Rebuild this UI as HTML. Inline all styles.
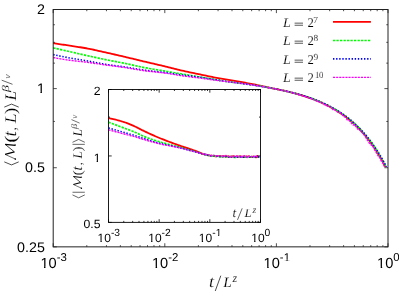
<!DOCTYPE html>
<html><head><meta charset="utf-8"><title>plot</title>
<style>html,body{margin:0;padding:0;background:#fff;overflow:hidden}svg{display:block;will-change:transform}text{font-family:"Liberation Sans",sans-serif;fill:#000;text-rendering:geometricPrecision}.s{font-family:"Liberation Serif",serif;stroke:#fff;stroke-width:0.14px;paint-order:fill stroke}.i{font-family:"Liberation Serif",serif;font-style:italic;stroke:#fff;stroke-width:0.14px;paint-order:fill stroke}</style></head><body>
<svg width="399" height="291" viewBox="0 0 399 291">
<rect width="399" height="291" fill="#fff"/>
<g fill="none" stroke-width="1.8" stroke-linejoin="round">
<path stroke="#ff0000" d="M53.2 43.2 L54.7 43.42 L56.2 43.63 L57.7 43.85 L59.2 44.07 L60.7 44.3 L62.2 44.52 L63.7 44.74 L65.2 44.97 L66.7 45.2 L68.2 45.42 L69.7 45.65 L71.2 45.88 L72.7 46.11 L74.2 46.34 L75.7 46.56 L77.2 46.79 L78.7 47.02 L80.2 47.25 L81.7 47.49 L83.2 47.74 L84.7 47.99 L86.2 48.26 L87.7 48.53 L89.2 48.82 L90.7 49.12 L92.2 49.43 L93.7 49.75 L95.2 50.08 L96.7 50.42 L98.2 50.76 L99.7 51.1 L101.2 51.44 L102.7 51.78 L104.2 52.12 L105.7 52.46 L107.2 52.79 L108.7 53.13 L110.2 53.47 L111.7 53.81 L113.2 54.16 L114.7 54.5 L116.2 54.85 L117.7 55.19 L119.2 55.54 L120.7 55.89 L122.2 56.24 L123.7 56.59 L125.2 56.95 L126.7 57.3 L128.2 57.66 L129.7 58.02 L131.2 58.38 L132.7 58.74 L134.2 59.1 L135.7 59.46 L137.2 59.83 L138.7 60.19 L140.2 60.55 L141.7 60.91 L143.2 61.27 L144.7 61.63 L146.2 61.98 L147.7 62.34 L149.2 62.69 L150.7 63.04 L152.2 63.39 L153.7 63.74 L155.2 64.09 L156.7 64.44 L158.2 64.79 L159.7 65.14 L161.2 65.49 L162.7 65.85 L164.2 66.21 L165.7 66.57 L167.2 66.94 L168.7 67.31 L170.2 67.69 L171.7 68.07 L173.2 68.45 L174.7 68.83 L176.2 69.21 L177.7 69.58 L179.2 69.94 L180.7 70.3 L182.2 70.65 L183.7 70.98 L185.2 71.31 L186.7 71.64 L188.2 71.96 L189.7 72.27 L191.2 72.59 L192.7 72.9 L194.2 73.2 L195.7 73.51 L197.2 73.82 L198.7 74.13 L200.2 74.44 L201.7 74.76 L203.2 75.07 L204.7 75.39 L206.2 75.71 L207.7 76.03 L209.2 76.34 L210.7 76.65 L212.2 76.96 L213.7 77.26 L215.2 77.56 L216.7 77.84 L218.2 78.12 L219.7 78.39 L221.2 78.66 L222.7 78.92 L224.2 79.18 L225.7 79.43 L227.2 79.68 L228.7 79.93 L230.2 80.18 L231.7 80.43 L233.2 80.69 L234.7 80.95 L236.2 81.21 L237.7 81.47 L239.2 81.72 L240.7 81.98 L242.2 82.24 L243.7 82.49 L245.2 82.76 L246.7 83.02 L248.2 83.29 L249.7 83.56 L251.2 83.85 L252.7 84.14 L254.2 84.44 L255.7 84.75 L257.2 85.07 L258.7 85.39 L260.2 85.72 L261.7 86.04 L263.2 86.36 L264.7 86.68 L266.2 87 L267.7 87.33 L269.2 87.65 L270.7 87.96 L272.2 88.27 L273.7 88.56 L275.2 88.85 L276.7 89.14 L278.2 89.45 L279.7 89.76 L281.2 90.07 L282.7 90.4 L284.2 90.73 L285.7 91.07 L287.2 91.42 L288.7 91.78 L290.2 92.14 L291.68 92.52 L293.17 92.9 L294.65 93.3 L296.14 93.7 L297.62 94.12 L299.11 94.54 L300.59 94.98 L302.08 95.43 L303.56 95.89 L305.05 96.37 L306.53 96.86 L308.02 97.36 L309.5 97.88 L310.99 98.41 L312.47 98.96 L313.96 99.52 L315.44 100.1 L316.93 100.7 L318.41 101.32 L319.9 101.96 L321.38 102.62 L322.87 103.29 L324.35 103.99 L325.84 104.71 L327.32 105.46 L328.81 106.23 L330.3 107.02 L331.8 107.84 L333.3 108.69 L334.8 109.57 L336.3 110.47 L337.8 111.41 L339.3 112.38 L340.8 113.38 L342.3 114.41 L343.8 115.48 L345.3 116.59 L346.8 117.74 L348.3 118.92 L349.8 120.15 L351.3 121.42 L352.8 122.74 L354.3 124.1 L355.8 125.51 L357.3 126.98 L358.8 128.49 L360.3 130.06 L361.8 131.69 L363.3 133.38 L364.8 135.13 L366.3 136.94 L367.8 138.82 L369.3 140.76 L370.8 142.78 L372.3 144.88 L373.8 147.05 L375.3 149.3 L376.8 151.64 L378.3 154.07 L379.8 156.58 L381.3 159.2 L382.8 161.91 L384.3 164.7 L385.4 166.84"/>
<path stroke="#00ff00" stroke-width="1.7" stroke-dasharray="2.3 1.2" d="M53.2 47.9 L54.7 48.24 L56.2 48.57 L57.7 48.91 L59.2 49.25 L60.7 49.59 L62.2 49.93 L63.7 50.27 L65.2 50.61 L66.7 50.95 L68.2 51.29 L69.7 51.63 L71.2 51.97 L72.7 52.32 L74.2 52.66 L75.7 53.01 L77.2 53.36 L78.7 53.71 L80.2 54.05 L81.7 54.4 L83.2 54.74 L84.7 55.08 L86.2 55.42 L87.7 55.76 L89.2 56.09 L90.7 56.42 L92.2 56.76 L93.7 57.09 L95.2 57.41 L96.7 57.74 L98.2 58.07 L99.7 58.39 L101.2 58.71 L102.7 59.02 L104.2 59.34 L105.7 59.64 L107.2 59.95 L108.7 60.24 L110.2 60.53 L111.7 60.82 L113.2 61.11 L114.7 61.4 L116.2 61.68 L117.7 61.97 L119.2 62.25 L120.7 62.54 L122.2 62.84 L123.7 63.14 L125.2 63.44 L126.7 63.75 L128.2 64.08 L129.7 64.4 L131.2 64.74 L132.7 65.07 L134.2 65.41 L135.7 65.74 L137.2 66.08 L138.7 66.41 L140.2 66.73 L141.7 67.04 L143.2 67.35 L144.7 67.64 L146.2 67.93 L147.7 68.2 L149.2 68.47 L150.7 68.73 L152.2 68.98 L153.7 69.23 L155.2 69.48 L156.7 69.73 L158.2 69.97 L159.7 70.22 L161.2 70.46 L162.7 70.71 L164.2 70.96 L165.7 71.22 L167.2 71.48 L168.7 71.73 L170.2 71.99 L171.7 72.25 L173.2 72.5 L174.7 72.76 L176.2 73.02 L177.7 73.27 L179.2 73.53 L180.7 73.78 L182.2 74.03 L183.7 74.29 L185.2 74.54 L186.7 74.79 L188.2 75.04 L189.7 75.28 L191.2 75.53 L192.7 75.78 L194.2 76.03 L195.7 76.28 L197.2 76.53 L198.7 76.78 L200.2 77.03 L201.7 77.29 L203.2 77.55 L204.7 77.8 L206.2 78.06 L207.7 78.32 L209.2 78.58 L210.7 78.84 L212.2 79.1 L213.7 79.35 L215.2 79.6 L216.7 79.85 L218.2 80.1 L219.7 80.34 L221.2 80.59 L222.7 80.84 L224.2 81.08 L225.7 81.32 L227.2 81.55 L228.7 81.77 L230.2 81.98 L231.7 82.17 L233.2 82.35 L234.7 82.54 L236.2 82.73 L237.7 82.92 L239.2 83.12 L240.7 83.32 L242.2 83.52 L243.7 83.72 L245.2 83.93 L246.7 84.14 L248.2 84.35 L249.7 84.57 L251.2 84.79 L252.7 85.01 L254.2 85.23 L255.7 85.46 L257.2 85.7 L258.7 85.93 L260.2 86.17 L261.7 86.42 L263.2 86.67 L264.7 86.92 L266.2 87.18 L267.7 87.45 L269.2 87.71 L270.7 87.99 L272.2 88.27 L273.7 88.55 L275.2 88.84 L276.7 89.14 L278.2 89.45 L279.7 89.76 L281.2 90.07 L282.7 90.4 L284.2 90.73 L285.7 91.07 L287.2 91.42 L288.7 91.78 L290.2 92.14 L291.72 92.52 L293.23 92.9 L294.75 93.3 L296.26 93.7 L297.78 94.12 L299.29 94.54 L300.81 94.98 L302.32 95.43 L303.84 95.89 L305.35 96.37 L306.87 96.86 L308.38 97.36 L309.9 97.88 L311.41 98.41 L312.93 98.96 L314.44 99.52 L315.96 100.1 L317.47 100.7 L318.99 101.32 L320.5 101.96 L322.02 102.62 L323.53 103.29 L325.05 103.99 L326.56 104.71 L328.08 105.46 L329.59 106.23 L331.1 107.02 L332.6 107.84 L334.1 108.69 L335.6 109.57 L337.1 110.47 L338.6 111.41 L340.1 112.38 L341.6 113.38 L343.1 114.41 L344.6 115.48 L346.1 116.59 L347.6 117.74 L349.1 118.92 L350.6 120.15 L352.1 121.42 L353.6 122.74 L355.1 124.1 L356.6 125.51 L358.1 126.98 L359.6 128.49 L361.1 130.06 L362.6 131.69 L364.1 133.38 L365.6 135.13 L367.1 136.94 L368.6 138.82 L370.1 140.77 L371.6 142.78 L373.1 144.88 L374.6 147.05 L376.1 149.3 L377.6 151.64 L379.1 154.07 L380.6 156.58 L382.1 159.19 L383.6 161.9 L385.1 164.71 L386.2 166.84"/>
<path stroke="#0000ff" stroke-width="1.6" stroke-dasharray="1.4 1.7" d="M53.2 54.6 L54.7 54.93 L56.2 55.25 L57.7 55.56 L59.2 55.88 L60.7 56.19 L62.2 56.49 L63.7 56.79 L65.2 57.09 L66.7 57.38 L68.2 57.66 L69.7 57.94 L71.2 58.22 L72.7 58.49 L74.2 58.75 L75.7 59 L77.2 59.25 L78.7 59.5 L80.2 59.75 L81.7 60 L83.2 60.25 L84.7 60.5 L86.2 60.76 L87.7 61.02 L89.2 61.3 L90.7 61.58 L92.2 61.86 L93.7 62.15 L95.2 62.44 L96.7 62.72 L98.2 63.01 L99.7 63.28 L101.2 63.56 L102.7 63.82 L104.2 64.07 L105.7 64.31 L107.2 64.54 L108.7 64.76 L110.2 64.97 L111.7 65.18 L113.2 65.38 L114.7 65.58 L116.2 65.78 L117.7 65.98 L119.2 66.18 L120.7 66.39 L122.2 66.6 L123.7 66.81 L125.2 67.03 L126.7 67.26 L128.2 67.5 L129.7 67.74 L131.2 67.99 L132.7 68.24 L134.2 68.5 L135.7 68.75 L137.2 69 L138.7 69.25 L140.2 69.49 L141.7 69.72 L143.2 69.94 L144.7 70.16 L146.2 70.36 L147.7 70.56 L149.2 70.74 L150.7 70.92 L152.2 71.1 L153.7 71.27 L155.2 71.44 L156.7 71.61 L158.2 71.78 L159.7 71.95 L161.2 72.13 L162.7 72.31 L164.2 72.5 L165.7 72.69 L167.2 72.89 L168.7 73.1 L170.2 73.31 L171.7 73.53 L173.2 73.75 L174.7 73.97 L176.2 74.18 L177.7 74.4 L179.2 74.61 L180.7 74.82 L182.2 75.03 L183.7 75.22 L185.2 75.42 L186.7 75.61 L188.2 75.79 L189.7 75.98 L191.2 76.16 L192.7 76.35 L194.2 76.53 L195.7 76.72 L197.2 76.92 L198.7 77.12 L200.2 77.33 L201.7 77.54 L203.2 77.77 L204.7 78 L206.2 78.23 L207.7 78.47 L209.2 78.71 L210.7 78.95 L212.2 79.19 L213.7 79.43 L215.2 79.67 L216.7 79.9 L218.2 80.14 L219.7 80.38 L221.2 80.61 L222.7 80.85 L224.2 81.09 L225.7 81.32 L227.2 81.55 L228.7 81.77 L230.2 81.98 L231.7 82.17 L233.2 82.35 L234.7 82.54 L236.2 82.73 L237.7 82.92 L239.2 83.12 L240.7 83.32 L242.2 83.52 L243.7 83.72 L245.2 83.93 L246.7 84.14 L248.2 84.35 L249.7 84.57 L251.2 84.79 L252.7 85.01 L254.2 85.23 L255.7 85.46 L257.2 85.7 L258.7 85.93 L260.2 86.17 L261.7 86.42 L263.2 86.67 L264.7 86.92 L266.2 87.18 L267.7 87.45 L269.2 87.71 L270.7 87.99 L272.2 88.27 L273.7 88.55 L275.2 88.84 L276.7 89.14 L278.2 89.45 L279.7 89.76 L281.2 90.07 L282.7 90.4 L284.2 90.73 L285.7 91.07 L287.2 91.42 L288.7 91.78 L290.2 92.14 L291.73 92.52 L293.25 92.9 L294.77 93.3 L296.29 93.7 L297.82 94.12 L299.34 94.54 L300.86 94.98 L302.38 95.43 L303.91 95.89 L305.43 96.37 L306.95 96.86 L308.47 97.36 L310 97.88 L311.52 98.41 L313.04 98.96 L314.56 99.52 L316.09 100.1 L317.61 100.7 L319.13 101.32 L320.65 101.96 L322.18 102.62 L323.7 103.29 L325.22 103.99 L326.74 104.71 L328.27 105.46 L329.79 106.23 L331.3 107.02 L332.8 107.84 L334.3 108.69 L335.8 109.57 L337.3 110.47 L338.8 111.41 L340.3 112.38 L341.8 113.38 L343.3 114.41 L344.8 115.48 L346.3 116.59 L347.8 117.74 L349.3 118.92 L350.8 120.15 L352.3 121.42 L353.8 122.74 L355.3 124.1 L356.8 125.51 L358.3 126.98 L359.8 128.49 L361.3 130.06 L362.8 131.69 L364.3 133.38 L365.8 135.13 L367.3 136.94 L368.8 138.82 L370.3 140.77 L371.8 142.78 L373.3 144.88 L374.8 147.05 L376.3 149.3 L377.8 151.64 L379.3 154.07 L380.8 156.58 L382.3 159.19 L383.8 161.9 L385.3 164.71 L386.4 166.84"/>
<path stroke="#ff00ff" stroke-dasharray="2.1 1" stroke-width="1.4" d="M53.2 57.5 L54.7 57.78 L56.2 58.06 L57.7 58.33 L59.2 58.6 L60.7 58.86 L62.2 59.11 L63.7 59.36 L65.2 59.59 L66.7 59.82 L68.2 60.05 L69.7 60.26 L71.2 60.46 L72.7 60.65 L74.2 60.83 L75.7 61.01 L77.2 61.17 L78.7 61.34 L80.2 61.5 L81.7 61.67 L83.2 61.84 L84.7 62.01 L86.2 62.2 L87.7 62.39 L89.2 62.59 L90.7 62.8 L92.2 63.02 L93.7 63.24 L95.2 63.46 L96.7 63.68 L98.2 63.91 L99.7 64.13 L101.2 64.35 L102.7 64.57 L104.2 64.79 L105.7 65 L107.2 65.2 L108.7 65.4 L110.2 65.6 L111.7 65.8 L113.2 66 L114.7 66.19 L116.2 66.39 L117.7 66.59 L119.2 66.79 L120.7 66.99 L122.2 67.2 L123.7 67.41 L125.2 67.63 L126.7 67.86 L128.2 68.09 L129.7 68.34 L131.2 68.59 L132.7 68.84 L134.2 69.1 L135.7 69.35 L137.2 69.6 L138.7 69.85 L140.2 70.09 L141.7 70.33 L143.2 70.55 L144.7 70.76 L146.2 70.96 L147.7 71.14 L149.2 71.32 L150.7 71.49 L152.2 71.65 L153.7 71.81 L155.2 71.97 L156.7 72.13 L158.2 72.29 L159.7 72.46 L161.2 72.63 L162.7 72.81 L164.2 72.99 L165.7 73.2 L167.2 73.41 L168.7 73.64 L170.2 73.88 L171.7 74.13 L173.2 74.38 L174.7 74.64 L176.2 74.89 L177.7 75.14 L179.2 75.38 L180.7 75.61 L182.2 75.83 L183.7 76.04 L185.2 76.24 L186.7 76.43 L188.2 76.62 L189.7 76.81 L191.2 77 L192.7 77.18 L194.2 77.37 L195.7 77.55 L197.2 77.74 L198.7 77.93 L200.2 78.13 L201.7 78.33 L203.2 78.53 L204.7 78.73 L206.2 78.94 L207.7 79.15 L209.2 79.36 L210.7 79.56 L212.2 79.77 L213.7 79.97 L215.2 80.17 L216.7 80.36 L218.2 80.55 L219.7 80.73 L221.2 80.91 L222.7 81.09 L224.2 81.26 L225.7 81.44 L227.2 81.61 L228.7 81.79 L230.2 81.97 L231.7 82.16 L233.2 82.35 L234.7 82.54 L236.2 82.73 L237.7 82.92 L239.2 83.12 L240.7 83.32 L242.2 83.52 L243.7 83.72 L245.2 83.93 L246.7 84.14 L248.2 84.35 L249.7 84.57 L251.2 84.79 L252.7 85.01 L254.2 85.23 L255.7 85.46 L257.2 85.7 L258.7 85.93 L260.2 86.17 L261.7 86.42 L263.2 86.67 L264.7 86.92 L266.2 87.18 L267.7 87.45 L269.2 87.71 L270.7 87.99 L272.2 88.27 L273.7 88.55 L275.2 88.84 L276.7 89.14 L278.2 89.45 L279.7 89.76 L281.2 90.07 L282.7 90.4 L284.2 90.73 L285.7 91.07 L287.2 91.42 L288.7 91.78 L290.19 92.14 L291.64 92.52 L293.08 92.9 L294.52 93.3 L295.97 93.7 L297.41 94.12 L298.85 94.54 L300.3 95 L301.74 95.48 L303.19 95.97 L304.63 96.37 L306.07 96.94 L307.52 97.32 L308.96 98 L310.4 98.35 L311.85 98.87 L313.29 99.4 L314.74 100.25 L316.18 100.77 L317.62 101.37 L319.07 101.64 L320.51 102.66 L321.95 102.83 L323.4 104.49 L324.84 104.67 L326.29 105.53 L327.73 106.19 L329.2 106.35 L330.7 107.24 L332.2 108.68 L333.7 110.29 L335.2 109.91 L336.7 111.04 L338.2 112.35 L339.7 112.45 L341.2 113.48 L342.7 115.26 L344.2 116.56 L345.7 117.52 L347.2 119.77 L348.7 120.06 L350.2 121.62 L351.7 123.62 L353.2 125.04 L354.7 124.64 L356.2 126.77 L357.7 129.13 L359.2 129.31 L360.7 131.18 L362.2 132.66 L363.7 134.38 L365.2 136.31 L366.7 138.91 L368.2 141.46 L369.7 143.62 L371.2 144.89 L372.7 145.97 L374.2 149.27 L375.7 151.46 L377.2 154.26 L378.7 156.51 L380.2 158.2 L381.7 162.13 L383.2 163.57 L384.3 166.46"/>
</g>
<g stroke="#222" stroke-width="1" fill="none">
<rect x="53.2" y="9.5" width="334.8" height="237.35"/>
</g>
<g stroke="#222" stroke-width="0.8" fill="none">
<path d="M53.2 246.85 v-3.6 M53.2 9.5 v3.6 M86.79 246.85 v-1.7 M86.79 9.5 v1.7 M106.45 246.85 v-1.7 M106.45 9.5 v1.7 M120.39 246.85 v-1.7 M120.39 9.5 v1.7 M131.21 246.85 v-1.7 M131.21 9.5 v1.7 M140.04 246.85 v-1.7 M140.04 9.5 v1.7 M147.51 246.85 v-1.7 M147.51 9.5 v1.7 M153.98 246.85 v-1.7 M153.98 9.5 v1.7 M159.69 246.85 v-1.7 M159.69 9.5 v1.7 M164.8 246.85 v-3.6 M164.8 9.5 v3.6 M198.39 246.85 v-1.7 M198.39 9.5 v1.7 M218.05 246.85 v-1.7 M218.05 9.5 v1.7 M231.99 246.85 v-1.7 M231.99 9.5 v1.7 M242.81 246.85 v-1.7 M242.81 9.5 v1.7 M251.64 246.85 v-1.7 M251.64 9.5 v1.7 M259.11 246.85 v-1.7 M259.11 9.5 v1.7 M265.58 246.85 v-1.7 M265.58 9.5 v1.7 M271.29 246.85 v-1.7 M271.29 9.5 v1.7 M276.4 246.85 v-3.6 M276.4 9.5 v3.6 M309.99 246.85 v-1.7 M309.99 9.5 v1.7 M329.65 246.85 v-1.7 M329.65 9.5 v1.7 M343.59 246.85 v-1.7 M343.59 9.5 v1.7 M354.41 246.85 v-1.7 M354.41 9.5 v1.7 M363.24 246.85 v-1.7 M363.24 9.5 v1.7 M370.71 246.85 v-1.7 M370.71 9.5 v1.7 M377.18 246.85 v-1.7 M377.18 9.5 v1.7 M382.89 246.85 v-1.7 M382.89 9.5 v1.7 M388 246.85 v-3.6 M388 9.5 v3.6 M53.2 9.5 h3.6 M388 9.5 h-3.6 M53.2 88.62 h3.6 M388 88.62 h-3.6 M53.2 167.73 h3.6 M388 167.73 h-3.6 M53.2 246.85 h3.6 M388 246.85 h-3.6 M53.2 121.45 h1.7 M388 121.45 h-1.7 M53.2 63.15 h1.7 M388 63.15 h-1.7 M53.2 42.34 h1.7 M388 42.34 h-1.7 M53.2 24.74 h1.7 M388 24.74 h-1.7"/>
</g>
<g fill="none" stroke-width="1.8" stroke-linejoin="round">
<path stroke="#ff0000" d="M108.5 118.2 L109.7 118.4 L110.9 118.62 L112.1 118.86 L113.3 119.12 L114.5 119.4 L115.7 119.7 L116.9 120 L118.1 120.33 L119.3 120.66 L120.5 121.01 L121.7 121.37 L122.9 121.74 L124.1 122.11 L125.3 122.5 L126.5 122.91 L127.7 123.35 L128.9 123.83 L130.1 124.32 L131.3 124.84 L132.5 125.37 L133.7 125.91 L134.9 126.45 L136.1 127.02 L137.3 127.62 L138.5 128.24 L139.7 128.88 L140.9 129.5 L142.1 130.11 L143.3 130.68 L144.5 131.26 L145.7 131.83 L146.9 132.39 L148.1 132.95 L149.3 133.51 L150.5 134.06 L151.7 134.61 L152.9 135.15 L154.1 135.68 L155.3 136.21 L156.5 136.73 L157.7 137.24 L158.9 137.74 L160.1 138.24 L161.3 138.73 L162.5 139.21 L163.7 139.69 L164.9 140.15 L166.1 140.62 L167.3 141.07 L168.5 141.53 L169.7 141.97 L170.9 142.42 L172.1 142.86 L173.3 143.29 L174.5 143.73 L175.7 144.16 L176.9 144.59 L178.1 145.01 L179.3 145.43 L180.5 145.84 L181.7 146.24 L182.9 146.64 L184.1 147.04 L185.3 147.43 L186.5 147.82 L187.7 148.22 L188.9 148.61 L190.1 149.01 L191.3 149.41 L192.5 149.82 L193.7 150.24 L194.9 150.66 L196.1 151.11 L197.3 151.6 L198.5 152.1 L199.7 152.61 L200.9 153.12 L202.1 153.58 L203.3 154.04 L204.5 154.35 L205.7 154.65 L206.9 154.98 L208.1 155.26 L209.3 155.44 L210.5 155.58 L211.7 155.55 L212.9 155.89 L214.1 155.92 L215.3 156.27 L216.5 156.38 L217.7 156.15 L218.9 156.02 L220.1 155.96 L221.3 156.38 L222.5 156.29 L223.7 156.18 L224.9 156.35 L226.1 156.14 L227.3 156.63 L228.5 156.26 L229.7 156.87 L230.9 156.61 L232.1 156.7 L233.3 156.14 L234.5 156.61 L235.7 156.83 L236.9 156.26 L238.1 156.52 L239.3 156.65 L240.5 156.18 L241.7 156.79 L242.9 157 L244.1 156.43 L245.3 156.87 L246.5 156.31 L247.7 156.77 L248.9 156.23 L250.1 157.19 L251.3 156.94 L252.5 156.78 L253.7 156.49 L254.9 157.19 L256.1 157.4 L257.3 156.02 L258.5 157.06 L259.3 157.17"/>
<path stroke="#00ff00" stroke-width="1.7" stroke-dasharray="2.3 1.2" d="M108.5 122.2 L109.7 122.65 L110.9 123.1 L112.1 123.55 L113.3 124 L114.5 124.44 L115.7 124.9 L116.9 125.35 L118.1 125.8 L119.3 126.25 L120.5 126.7 L121.7 127.15 L122.9 127.61 L124.1 128.06 L125.3 128.51 L126.5 128.96 L127.7 129.4 L128.9 129.84 L130.1 130.28 L131.3 130.72 L132.5 131.18 L133.7 131.66 L134.9 132.16 L136.1 132.69 L137.3 133.28 L138.5 133.88 L139.7 134.49 L140.9 135.08 L142.1 135.63 L143.3 136.13 L144.5 136.62 L145.7 137.09 L146.9 137.55 L148.1 138.01 L149.3 138.45 L150.5 138.88 L151.7 139.31 L152.9 139.72 L154.1 140.13 L155.3 140.52 L156.5 140.91 L157.7 141.29 L158.9 141.66 L160.1 142.03 L161.3 142.38 L162.5 142.73 L163.7 143.06 L164.9 143.38 L166.1 143.69 L167.3 144 L168.5 144.3 L169.7 144.6 L170.9 144.9 L172.1 145.2 L173.3 145.5 L174.5 145.81 L175.7 146.12 L176.9 146.44 L178.1 146.76 L179.3 147.1 L180.5 147.43 L181.7 147.77 L182.9 148.11 L184.1 148.45 L185.3 148.8 L186.5 149.14 L187.7 149.49 L188.9 149.83 L190.1 150.18 L191.3 150.53 L192.5 150.88 L193.7 151.22 L194.9 151.57 L196.1 151.92 L197.3 152.29 L198.5 152.66 L199.7 153.03 L200.9 153.4 L202.1 153.79 L203.3 154.01 L204.5 154.41 L205.7 154.71 L206.9 155.09 L208.1 155.42 L209.3 155.44 L210.5 155.45 L211.7 156.05 L212.9 156.16 L214.1 155.94 L215.3 156.2 L216.5 156.29 L217.7 156.42 L218.9 156.39 L220.1 156.81 L221.3 155.91 L222.5 156.78 L223.7 156.61 L224.9 156.47 L226.1 156.91 L227.3 155.89 L228.5 156.97 L229.7 156.76 L230.9 156.33 L232.1 156.83 L233.3 156.63 L234.5 157.52 L235.7 157.32 L236.9 156.93 L238.1 156.6 L239.3 156.66 L240.5 156.76 L241.7 156.71 L242.9 156.63 L244.1 156.75 L245.3 156.87 L246.5 156.82 L247.7 156.78 L248.9 156.72 L250.1 157.77 L251.3 156.55 L252.5 156.68 L253.7 157.09 L254.9 156.84 L256.1 157.04 L257.3 157.11 L258.5 157.21 L259.3 157.03"/>
<path stroke="#0000ff" stroke-width="1.6" stroke-dasharray="1.4 1.7" d="M108.5 128 L109.7 128.34 L110.9 128.68 L112.1 129.02 L113.3 129.36 L114.5 129.7 L115.7 130.04 L116.9 130.38 L118.1 130.72 L119.3 131.07 L120.5 131.41 L121.7 131.75 L122.9 132.1 L124.1 132.44 L125.3 132.79 L126.5 133.13 L127.7 133.47 L128.9 133.81 L130.1 134.15 L131.3 134.49 L132.5 134.84 L133.7 135.2 L134.9 135.57 L136.1 135.95 L137.3 136.35 L138.5 136.76 L139.7 137.17 L140.9 137.57 L142.1 137.97 L143.3 138.36 L144.5 138.74 L145.7 139.13 L146.9 139.51 L148.1 139.9 L149.3 140.28 L150.5 140.66 L151.7 141.04 L152.9 141.4 L154.1 141.76 L155.3 142.12 L156.5 142.46 L157.7 142.79 L158.9 143.12 L160.1 143.43 L161.3 143.72 L162.5 144 L163.7 144.27 L164.9 144.54 L166.1 144.79 L167.3 145.04 L168.5 145.29 L169.7 145.53 L170.9 145.78 L172.1 146.02 L173.3 146.27 L174.5 146.53 L175.7 146.79 L176.9 147.06 L178.1 147.34 L179.3 147.63 L180.5 147.92 L181.7 148.22 L182.9 148.52 L184.1 148.82 L185.3 149.13 L186.5 149.44 L187.7 149.75 L188.9 150.07 L190.1 150.39 L191.3 150.71 L192.5 151.03 L193.7 151.35 L194.9 151.67 L196.1 152 L197.3 152.35 L198.5 152.7 L199.7 153.06 L200.9 153.43 L202.1 153.75 L203.3 154.21 L204.5 154.37 L205.7 154.78 L206.9 155.12 L208.1 155.23 L209.3 155.58 L210.5 155.93 L211.7 155.89 L212.9 155.85 L214.1 155.52 L215.3 156.01 L216.5 156.17 L217.7 156.26 L218.9 156.2 L220.1 156.65 L221.3 156.4 L222.5 156.58 L223.7 156.85 L224.9 156.43 L226.1 156.62 L227.3 157.39 L228.5 157.03 L229.7 156.41 L230.9 156.8 L232.1 157.02 L233.3 157.24 L234.5 156.94 L235.7 156.76 L236.9 156.72 L238.1 157.16 L239.3 157.08 L240.5 156.85 L241.7 156.97 L242.9 156.93 L244.1 157.3 L245.3 156.89 L246.5 157.27 L247.7 157.39 L248.9 157.29 L250.1 156.9 L251.3 157.55 L252.5 156.93 L253.7 157.24 L254.9 156.86 L256.1 156.54 L257.3 157.09 L258.5 157.07 L259.3 156.93"/>
<path stroke="#ff00ff" stroke-dasharray="2.1 1" stroke-width="1.4" d="M108.5 129.8 L109.7 130.12 L110.9 130.45 L112.1 130.77 L113.3 131.09 L114.5 131.42 L115.7 131.74 L116.9 132.06 L118.1 132.38 L119.3 132.69 L120.5 133.01 L121.7 133.33 L122.9 133.65 L124.1 133.96 L125.3 134.28 L126.5 134.59 L127.7 134.89 L128.9 135.2 L130.1 135.5 L131.3 135.81 L132.5 136.12 L133.7 136.44 L134.9 136.77 L136.1 137.12 L137.3 137.49 L138.5 137.86 L139.7 138.24 L140.9 138.62 L142.1 138.98 L143.3 139.33 L144.5 139.68 L145.7 140.04 L146.9 140.39 L148.1 140.73 L149.3 141.08 L150.5 141.42 L151.7 141.76 L152.9 142.09 L154.1 142.42 L155.3 142.73 L156.5 143.05 L157.7 143.35 L158.9 143.64 L160.1 143.92 L161.3 144.19 L162.5 144.45 L163.7 144.7 L164.9 144.94 L166.1 145.17 L167.3 145.4 L168.5 145.62 L169.7 145.85 L170.9 146.07 L172.1 146.3 L173.3 146.53 L174.5 146.77 L175.7 147.01 L176.9 147.27 L178.1 147.53 L179.3 147.81 L180.5 148.09 L181.7 148.38 L182.9 148.67 L184.1 148.97 L185.3 149.27 L186.5 149.58 L187.7 149.89 L188.9 150.2 L190.1 150.51 L191.3 150.83 L192.5 151.14 L193.7 151.46 L194.9 151.77 L196.1 152.09 L197.3 152.43 L198.5 152.77 L199.7 153.11 L200.9 153.45 L202.1 153.8 L203.3 154.01 L204.5 154.17 L205.7 154.48 L206.9 154.34 L208.1 154.92 L209.3 154.96 L210.5 156.04 L211.7 155.32 L212.9 155.01 L214.1 156.05 L215.3 155.66 L216.5 155.81 L217.7 155.92 L218.9 155.98 L220.1 155.66 L221.3 156.5 L222.5 156.28 L223.7 155.7 L224.9 155.93 L226.1 155.5 L227.3 156.26 L228.5 156.56 L229.7 156.53 L230.9 156.54 L232.1 156.12 L233.3 157.17 L234.5 156.12 L235.7 156.29 L236.9 156.09 L238.1 156.36 L239.3 156.19 L240.5 157.58 L241.7 156.64 L242.9 155.4 L244.1 156.17 L245.3 155.6 L246.5 157 L247.7 157.31 L248.9 156.23 L250.1 156.87 L251.3 156.37 L252.5 156.73 L253.7 157.5 L254.9 156.23 L256.1 155.67 L257.3 156.8 L258.5 156.64 L259.3 156.7"/>
</g>
<g stroke="#1a1a1a" stroke-width="1" fill="none">
<rect x="108.5" y="89.5" width="152" height="132.9"/>
</g>
<g stroke="#000" stroke-width="0.8" fill="none">
<path d="M108.5 222.4 v-3.2 M108.5 89.5 v3.2 M123.75 222.4 v-1.5 M123.75 89.5 v1.5 M132.67 222.4 v-1.5 M132.67 89.5 v1.5 M139 222.4 v-1.5 M139 89.5 v1.5 M143.91 222.4 v-1.5 M143.91 89.5 v1.5 M147.93 222.4 v-1.5 M147.93 89.5 v1.5 M151.32 222.4 v-1.5 M151.32 89.5 v1.5 M154.26 222.4 v-1.5 M154.26 89.5 v1.5 M156.85 222.4 v-1.5 M156.85 89.5 v1.5 M159.17 222.4 v-3.2 M159.17 89.5 v3.2 M174.42 222.4 v-1.5 M174.42 89.5 v1.5 M183.34 222.4 v-1.5 M183.34 89.5 v1.5 M189.67 222.4 v-1.5 M189.67 89.5 v1.5 M194.58 222.4 v-1.5 M194.58 89.5 v1.5 M198.59 222.4 v-1.5 M198.59 89.5 v1.5 M201.98 222.4 v-1.5 M201.98 89.5 v1.5 M204.92 222.4 v-1.5 M204.92 89.5 v1.5 M207.51 222.4 v-1.5 M207.51 89.5 v1.5 M209.83 222.4 v-3.2 M209.83 89.5 v3.2 M225.09 222.4 v-1.5 M225.09 89.5 v1.5 M234.01 222.4 v-1.5 M234.01 89.5 v1.5 M240.34 222.4 v-1.5 M240.34 89.5 v1.5 M245.25 222.4 v-1.5 M245.25 89.5 v1.5 M249.26 222.4 v-1.5 M249.26 89.5 v1.5 M252.65 222.4 v-1.5 M252.65 89.5 v1.5 M255.59 222.4 v-1.5 M255.59 89.5 v1.5 M258.18 222.4 v-1.5 M258.18 89.5 v1.5 M260.5 222.4 v-3.2 M260.5 89.5 v3.2 M108.5 89.5 h3.2 M260.5 89.5 h-3.2 M108.5 155.95 h3.2 M260.5 155.95 h-3.2 M108.5 222.4 h3.2 M260.5 222.4 h-3.2 M108.5 117.08 h1.5 M260.5 117.08 h-1.5"/>
</g>
<text transform="translate(44.9 14) scale(1.035 1)" font-size="13.8" text-anchor="end">2</text>
<text transform="translate(44.9 93) scale(1.035 1)" font-size="13.8" text-anchor="end">1</text>
<path d="M37.44 91.72H40.45v1.53H37.44z M41.91 91.72H45.1v1.53H41.91z" fill="#fff"/>
<text transform="translate(44.9 172) scale(1.035 1)" font-size="13.8" text-anchor="end">0.5</text>
<text transform="translate(44.9 252) scale(1.035 1)" font-size="13.8" text-anchor="end">0.25</text>
<text x="53.6" y="268" font-size="14.6" text-anchor="middle">10<tspan dy="-7.5" font-size="11.4">-3</tspan></text>
<path d="M40.92 266.66H43.99v1.59H40.92z M45.48 266.66H48.72v1.59H45.48z" fill="#fff"/>
<text x="165.2" y="268" font-size="14.6" text-anchor="middle">10<tspan dy="-7.5" font-size="11.4">-2</tspan></text>
<path d="M152.52 266.66H155.59v1.59H152.52z M157.08 266.66H160.32v1.59H157.08z" fill="#fff"/>
<text x="276.8" y="268" font-size="14.6" text-anchor="middle">10<tspan dy="-7.5" font-size="11.4">-1</tspan></text>
<path d="M264.12 266.66H267.19v1.59H264.12z M268.68 266.66H271.92v1.59H268.68z" fill="#fff"/>
<path d="M283.91 259.4H286.41v1.35H283.91z M287.62 259.4H290.33v1.35H287.62z" fill="#fff"/>
<text x="388.4" y="268" font-size="14.6" text-anchor="middle">10<tspan dy="-7.5" font-size="11.4">0</tspan></text>
<path d="M377.62 266.66H380.69v1.59H377.62z M382.18 266.66H385.42v1.59H382.18z" fill="#fff"/>
<text transform="translate(100.5 95) scale(1.02 1)" font-size="12" text-anchor="end">2</text>
<text transform="translate(100.5 162) scale(1.02 1)" font-size="12" text-anchor="end">1</text>
<path d="M94.02 160.85H96.67v1.4H94.02z M97.96 160.85H100.8v1.4H97.96z" fill="#fff"/>
<text transform="translate(100.5 228) scale(1.02 1)" font-size="12" text-anchor="end">0.5</text>
<text x="108.8" y="242" font-size="12" text-anchor="middle">10<tspan dy="-6" font-size="10.3">-3</tspan></text>
<path d="M97.86 240.85H100.47v1.4H97.86z M101.73 240.85H104.53v1.4H101.73z" fill="#fff"/>
<text x="159.47" y="242" font-size="12" text-anchor="middle">10<tspan dy="-6" font-size="10.3">-2</tspan></text>
<path d="M148.53 240.85H151.13v1.4H148.53z M152.4 240.85H155.2v1.4H152.4z" fill="#fff"/>
<text x="210.13" y="242" font-size="12" text-anchor="middle">10<tspan dy="-6" font-size="10.3">-1</tspan></text>
<path d="M199.19 240.85H201.8v1.4H199.19z M203.06 240.85H205.87v1.4H203.06z" fill="#fff"/>
<path d="M215.84 234.98H218.15v1.27H215.84z M219.26 234.98H221.78v1.27H219.26z" fill="#fff"/>
<text x="260.8" y="242" font-size="12" text-anchor="middle">10<tspan dy="-6" font-size="10.3">0</tspan></text>
<path d="M251.58 240.85H254.18v1.4H251.58z M255.44 240.85H258.25v1.4H255.44z" fill="#fff"/>
<text class="i" transform="translate(282.96 27) scale(1.062 1)" font-size="13.2">L</text>
<path d="M294.6 23.15 L303 23.15" stroke="#000" stroke-width="0.65" fill="none"/>
<path d="M294.6 25.25 L303 25.25" stroke="#000" stroke-width="0.65" fill="none"/>
<text class="s" transform="translate(307.44 27) scale(0.964 1)" font-size="13.2">2</text>
<text class="s" x="313.29" y="23" font-size="9.3">7</text>
<path d="M333 21.9 H370.9" stroke="#ff0000" stroke-width="1.8" fill="none"/>
<text class="i" transform="translate(282.96 45) scale(1.062 1)" font-size="13.2">L</text>
<path d="M294.6 41.15 L303 41.15" stroke="#000" stroke-width="0.65" fill="none"/>
<path d="M294.6 43.25 L303 43.25" stroke="#000" stroke-width="0.65" fill="none"/>
<text class="s" transform="translate(307.44 45) scale(0.964 1)" font-size="13.2">2</text>
<text class="s" x="313.55" y="41" font-size="9.3">8</text>
<path d="M333 40.5 H370.9" stroke="#00ff00" stroke-width="1.7" stroke-dasharray="2.3 1.2" fill="none"/>
<text class="i" transform="translate(282.96 64) scale(1.062 1)" font-size="13.2">L</text>
<path d="M294.6 60.15 L303 60.15" stroke="#000" stroke-width="0.65" fill="none"/>
<path d="M294.6 62.25 L303 62.25" stroke="#000" stroke-width="0.65" fill="none"/>
<text class="s" transform="translate(307.44 64) scale(0.964 1)" font-size="13.2">2</text>
<text class="s" x="313.6" y="60" font-size="9.3">9</text>
<path d="M333 58.9 H370.9" stroke="#0000ff" stroke-width="1.6" stroke-dasharray="1.4 1.7" fill="none"/>
<text class="i" transform="translate(282.96 82) scale(1.062 1)" font-size="13.2">L</text>
<path d="M294.6 78.15 L303 78.15" stroke="#000" stroke-width="0.65" fill="none"/>
<path d="M294.6 80.25 L303 80.25" stroke="#000" stroke-width="0.65" fill="none"/>
<text class="s" transform="translate(307.44 82) scale(0.964 1)" font-size="13.2">2</text>
<text class="s" transform="translate(314.95 78) scale(0.916 1)" font-size="9.3">1</text>
<text class="s" transform="translate(318.97 78) scale(0.939 1)" font-size="9.3">0</text>
<path d="M333 77.4 H370.9" stroke="#ff00ff" stroke-width="1.4" stroke-dasharray="2.1 1" fill="none"/>
<text class="i" transform="translate(208.9 287) scale(1.098 1)" font-size="16.5">t</text>
<path d="M220.8 275.7 L214.9 292" stroke="#000" stroke-width="0.7" fill="none"/>
<text class="i" transform="translate(223.18 287) scale(1.067 1)" font-size="14.4">L</text>
<text class="i" transform="translate(232.53 282) scale(0.990 1)" font-size="12">z</text>
<text class="i" x="232.42" y="217" font-size="13.2">t</text>
<path d="M242.2 208.3 L237.5 219.9" stroke="#000" stroke-width="0.6" fill="none"/>
<text class="i" transform="translate(244.55 217) scale(1.089 1)" font-size="12">L</text>
<text class="i" transform="translate(252.51 213) scale(0.975 1)" font-size="9.8">z</text>
<g transform="translate(15.6 165.5) rotate(-90)">
<path d="M3.6 -11.3 L0.6 -4.1 L3.6 3.1" stroke="#000" stroke-width="0.7" fill="none" stroke-linejoin="miter"/>
<path d="M6.4 -0.1 L11.1 -10.5" stroke="#000" stroke-width="0.6" fill="none"/>
<path d="M11.1 -10.5 L13.6 -1.2" stroke="#000" stroke-width="1.25" fill="none"/>
<path d="M13.6 -1.2 L21.2 -10.5" stroke="#000" stroke-width="0.75" fill="none"/>
<path d="M21.2 -10.5 L20.1 -0.1" stroke="#000" stroke-width="1.25" fill="none"/>
<path d="M20.1 -0.1 L21.6 -0.7" stroke="#000" stroke-width="0.6" fill="none"/>
<circle cx="6.4" cy="-0.3" r="0.8" fill="#000"/>
<text class="s" transform="translate(22.64 0.3) scale(1.321 1)" font-size="16.5">(</text>
<text class="i" x="28.99" y="0" font-size="18.5">t</text>
<text class="s" x="34.71" y="0" font-size="15.4">,</text>
<text class="i" transform="translate(42.21 0) scale(1.091 1)" font-size="16.2">L</text>
<text class="s" transform="translate(51.15 0.3) scale(1.227 1)" font-size="16.5">)</text>
<path d="M58.4 -11.3 L61.4 -4.1 L58.4 3.1" stroke="#000" stroke-width="0.7" fill="none" stroke-linejoin="miter"/>
<text class="i" transform="translate(65 0) scale(1.067 1)" font-size="16.2">L</text>
<text class="i" transform="translate(73.53 -6.2) scale(1.377 1)" font-size="10.2">β</text>
<path d="M81.2 -3.1 L85.3 -13.9" stroke="#000" stroke-width="0.6" fill="none"/>
<text class="i" transform="translate(86.76 -6.1) scale(1.162 1)" font-size="8.6">ν</text>
</g>
<g transform="translate(81.7 198.5) rotate(-90)">
<path d="M3.6 -9.2 L0.7 -3.05 L3.6 3.1" stroke="#000" stroke-width="0.6" fill="none" stroke-linejoin="miter"/>
<path d="M6.25 -9.2 L6.25 3.1" stroke="#000" stroke-width="0.6" fill="none"/>
<path d="M10.24 -0.08 L13.96 -8.29" stroke="#000" stroke-width="0.5332916650389353" fill="none"/>
<path d="M13.96 -8.29 L15.93 -0.95" stroke="#000" stroke-width="1.1110243021644486" fill="none"/>
<path d="M15.93 -0.95 L21.94 -8.29" stroke="#000" stroke-width="0.6666145812986692" fill="none"/>
<path d="M21.94 -8.29 L21.07 -0.08" stroke="#000" stroke-width="1.1110243021644486" fill="none"/>
<path d="M21.07 -0.08 L22.25 -0.55" stroke="#000" stroke-width="0.5332916650389353" fill="none"/>
<circle cx="10.24" cy="-0.28" r="0.71" fill="#000"/>
<text class="s" transform="translate(23.12 0.2) scale(1.180 1)" font-size="13.2">(</text>
<text class="i" x="28.04" y="0" font-size="15">t</text>
<text class="s" x="33.23" y="0" font-size="12.4">,</text>
<text class="i" transform="translate(40.05 0) scale(0.990 1)" font-size="13.2">L</text>
<text class="s" transform="translate(47.12 0.2) scale(1.121 1)" font-size="13.2">)</text>
<path d="M54.15 -9.2 L54.15 3.1" stroke="#000" stroke-width="0.6" fill="none"/>
<path d="M56.2 -9.2 L59.1 -3.05 L56.2 3.1" stroke="#000" stroke-width="0.6" fill="none" stroke-linejoin="miter"/>
<text class="i" transform="translate(62.35 0) scale(0.961 1)" font-size="13.2">L</text>
<text class="i" transform="translate(69.47 -4.7) scale(1.277 1)" font-size="8.4">β</text>
<path d="M75.4 -2.1 L78.9 -10.2" stroke="#000" stroke-width="0.55" fill="none"/>
<text class="i" transform="translate(79.89 -4.7) scale(1.073 1)" font-size="7.8">ν</text>
</g>
</svg></body></html>
